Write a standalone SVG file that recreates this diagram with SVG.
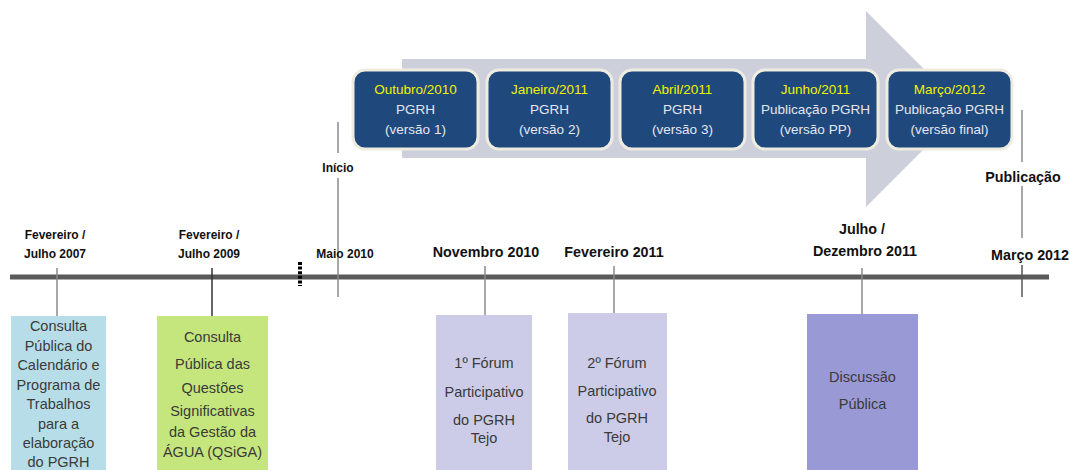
<svg xmlns="http://www.w3.org/2000/svg" width="1070" height="470" viewBox="0 0 1070 470">
<style>
.lbl{font-family:"Liberation Sans",Arial,sans-serif;font-weight:bold;fill:#111;text-anchor:middle}
.s{font-size:12px}
.l{font-size:14.3px}
.bt{font-family:"Liberation Sans",Arial,sans-serif;font-size:14.5px;fill:#3a3a3a;text-anchor:middle}
.vb{fill:#1F497D;stroke:#EEECE1;stroke-width:3}
.vt{font-family:"Liberation Sans",Arial,sans-serif;font-size:13.5px;fill:#E6E6F0;text-anchor:middle}
.vy{fill:#F2F200}
.tick{stroke:#8a8a8a;stroke-width:1.5}
</style>
<rect width="1070" height="470" fill="#ffffff"/>
<g id="arrow">
<polygon points="402,59 866,59 866,11 964,109 866,207 866,158 402,158" fill="#CDD0DA"/>
</g>
<g id="connectors">
<line x1="10" y1="277" x2="1049" y2="277" stroke="#5A5A5A" stroke-width="5"/>
<line class="tick" x1="57" y1="268" x2="57" y2="316"/>
<line x1="212" y1="268" x2="212" y2="316" stroke="#333" stroke-width="1.5"/>
<line x1="300" y1="262" x2="300" y2="286" stroke="#000" stroke-width="4" stroke-dasharray="3 1.6"/>
<line class="tick" x1="338" y1="122" x2="338" y2="153"/>
<line class="tick" x1="338" y1="178" x2="338" y2="297"/>
<line class="tick" x1="485" y1="266" x2="485" y2="315"/>
<line class="tick" x1="614" y1="266" x2="614" y2="313"/>
<line class="tick" x1="862" y1="268" x2="862" y2="314"/>
<line class="tick" x1="1022" y1="110" x2="1022" y2="162"/>
<line class="tick" x1="1022" y1="186" x2="1022" y2="238"/>
<line x1="1022" y1="265" x2="1022" y2="297" stroke="#555" stroke-width="1.5"/>
</g>
<g id="labels">
<text class="lbl s" x="55" y="239">Fevereiro /</text>
<text class="lbl s" x="55" y="258">Julho 2007</text>
<text class="lbl s" x="209" y="239">Fevereiro /</text>
<text class="lbl s" x="209" y="258">Julho 2009</text>
<text class="lbl s" x="338" y="172">Início</text>
<text class="lbl s" x="345" y="258">Maio 2010</text>
<text class="lbl l" x="486" y="257">Novembro 2010</text>
<text class="lbl l" x="614" y="257">Fevereiro 2011</text>
<text class="lbl l" x="862" y="234">Julho /</text>
<text class="lbl l" x="865" y="256">Dezembro 2011</text>
<text class="lbl l" x="1023" y="182">Publicação</text>
<text class="lbl l" x="1030" y="260">Março 2012</text>
</g>
<g id="v1">
<rect class="vb" x="353" y="70" width="125" height="79" rx="12"/>
<text class="vt vy" x="415.5" y="94">Outubro/2010</text>
<text class="vt" x="415.5" y="114">PGRH</text>
<text class="vt" x="415.5" y="134">(versão 1)</text>
</g>
<g id="v2">
<rect class="vb" x="487" y="70" width="125" height="79" rx="12"/>
<text class="vt vy" x="549.5" y="94">Janeiro/2011</text>
<text class="vt" x="549.5" y="114">PGRH</text>
<text class="vt" x="549.5" y="134">(versão 2)</text>
</g>
<g id="v3">
<rect class="vb" x="620" y="70" width="125" height="79" rx="12"/>
<text class="vt vy" x="682.5" y="94">Abril/2011</text>
<text class="vt" x="682.5" y="114">PGRH</text>
<text class="vt" x="682.5" y="134">(versão 3)</text>
</g>
<g id="v4">
<rect class="vb" x="753" y="70" width="125" height="79" rx="12"/>
<text class="vt vy" x="815.5" y="94">Junho/2011</text>
<text class="vt" x="815.5" y="114">Publicação PGRH</text>
<text class="vt" x="815.5" y="134">(versão PP)</text>
</g>
<g id="v5">
<rect class="vb" x="887" y="70" width="125" height="79" rx="12"/>
<text class="vt vy" x="949.5" y="94">Março/2012</text>
<text class="vt" x="949.5" y="114">Publicação PGRH</text>
<text class="vt" x="949.5" y="134">(versão final)</text>
</g>
<g id="boxA">
<rect x="11" y="316" width="95" height="160" fill="#B7DEE8"/>
<text class="bt" x="58.5" y="331">Consulta</text>
<text class="bt" x="58.5" y="351">Pública do</text>
<text class="bt" x="58.5" y="370">Calendário e</text>
<text class="bt" x="58.5" y="390">Programa de</text>
<text class="bt" x="58.5" y="409">Trabalhos</text>
<text class="bt" x="58.5" y="429">para a</text>
<text class="bt" x="58.5" y="448">elaboração</text>
<text class="bt" x="58.5" y="467">do PGRH</text>
</g>
<g id="boxB">
<rect x="157" y="316" width="111" height="160" fill="#C4E67C"/>
<text class="bt" x="212.5" y="342">Consulta</text>
<text class="bt" x="212.5" y="369">Pública das</text>
<text class="bt" x="212.5" y="393">Questões</text>
<text class="bt" x="212.5" y="416">Significativas</text>
<text class="bt" x="212.5" y="437">da Gestão da</text>
<text class="bt" x="212.5" y="457">ÁGUA (QSiGA)</text>
</g>
<g id="boxC">
<rect x="436" y="315" width="96" height="160" fill="#CCCCE8"/>
<text class="bt" x="484" y="368">1º Fórum</text>
<text class="bt" x="484" y="397">Participativo</text>
<text class="bt" x="484" y="425">do PGRH</text>
<text class="bt" x="484" y="443">Tejo</text>
</g>
<g id="boxD">
<rect x="568" y="313" width="99" height="160" fill="#CCCCE8"/>
<text class="bt" x="617" y="368">2º Fórum</text>
<text class="bt" x="617" y="396">Participativo</text>
<text class="bt" x="617" y="423">do PGRH</text>
<text class="bt" x="617" y="442">Tejo</text>
</g>
<g id="boxE">
<rect x="807" y="314" width="111" height="160" fill="#9999D6"/>
<text class="bt" x="862.5" y="382">Discussão</text>
<text class="bt" x="862.5" y="409">Pública</text>
</g>
</svg>
